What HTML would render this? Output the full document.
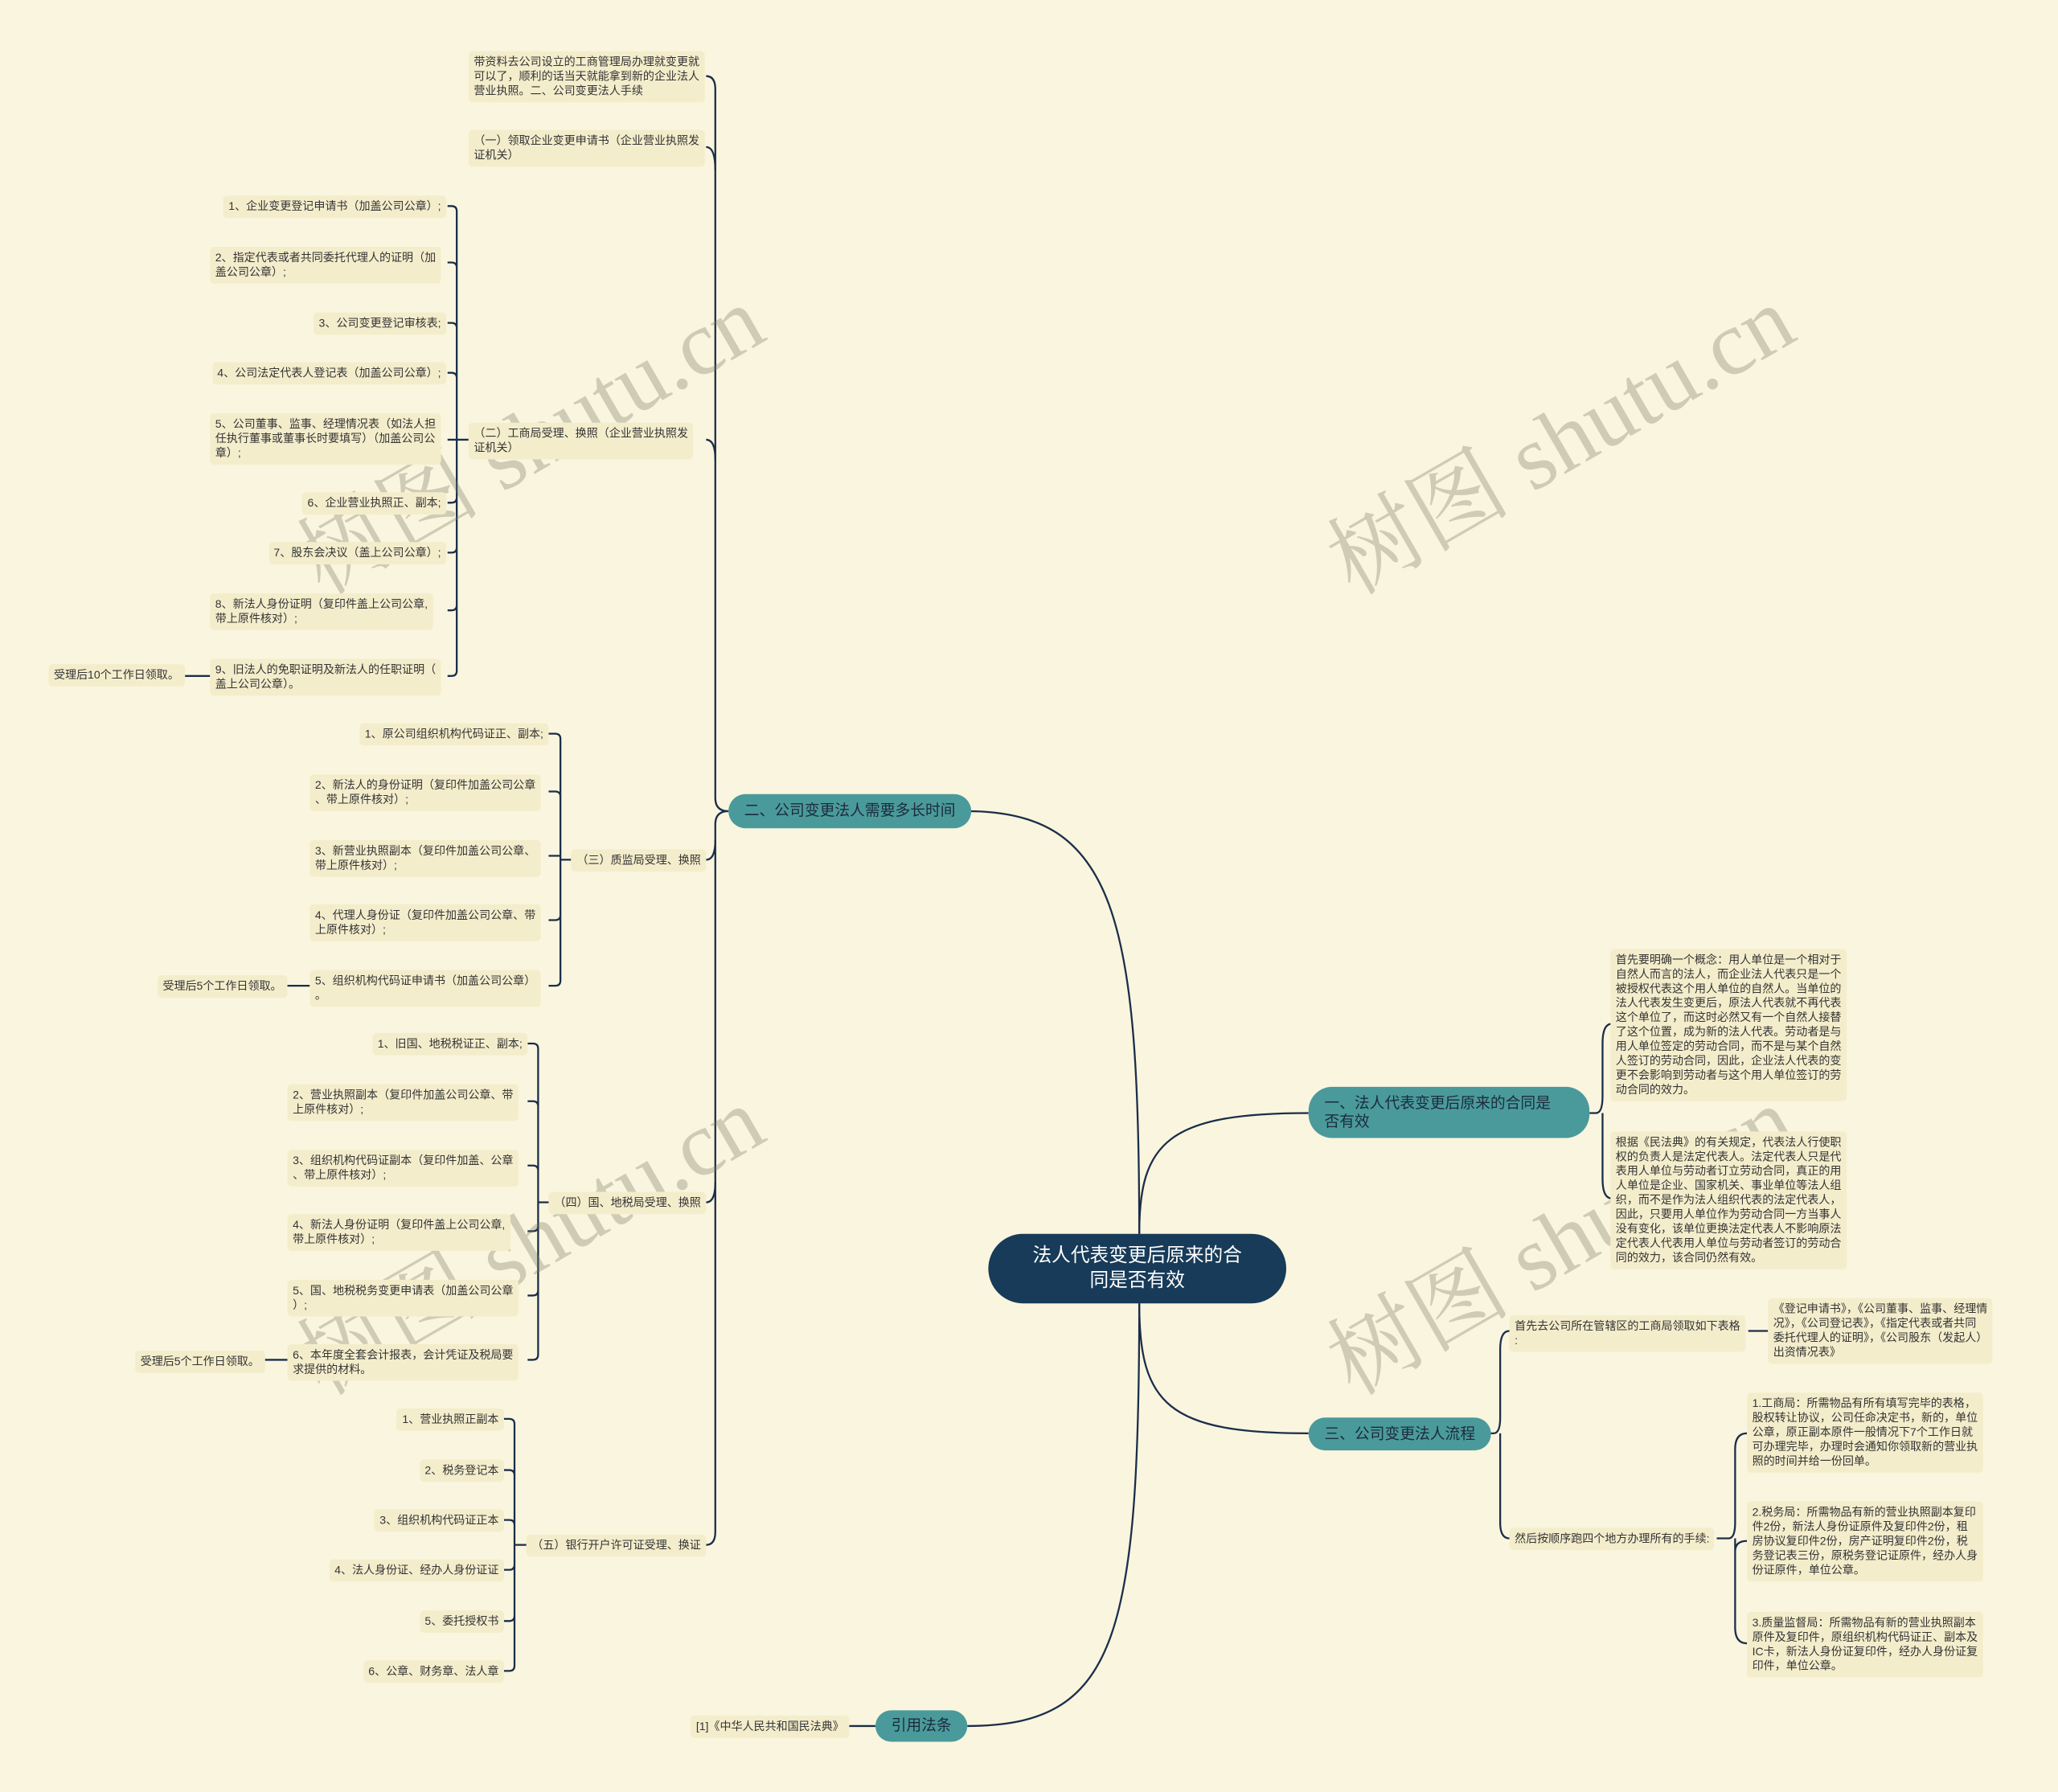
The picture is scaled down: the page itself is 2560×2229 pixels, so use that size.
<!DOCTYPE html>
<html><head><meta charset="utf-8"><style>
html,body{margin:0;padding:0;background:#faf5de;}
body{width:2560px;height:2228px;overflow:hidden;position:relative;}
#s{position:absolute;left:0;top:0;width:1568px;height:1365px;transform:scale(1.63265);transform-origin:0 0;font-family:"Liberation Sans","Noto Sans CJK SC",sans-serif;}
.n{position:absolute;background:#f4edcc;border-radius:3px;padding:3px 4px;font-size:8.6px;line-height:11px;color:#333;white-space:nowrap;}
.b{position:absolute;background:#4a9a9b;border-radius:14px;font-size:11.5px;line-height:14px;color:#1c2c3c;padding:0 12px;display:flex;align-items:center;white-space:nowrap;}
.wm{position:absolute;font-family:"Liberation Serif","Noto Serif CJK SC",serif;font-size:70px;color:rgba(120,120,100,0.33);transform:rotate(-30deg);white-space:nowrap;transform-origin:center;}
svg{position:absolute;left:0;top:0;}
</style></head><body><div id="s">
<svg width="1568" height="1365" fill="none" stroke="#1b2e4a" stroke-width="1.4">
<path d="M868,940 C868,700 850,618 737,618"/>
<path d="M868,940 C868,870 890,848 997,848"/>
<path d="M868,993 C868,1070 890,1092 997,1092"/>
<path d="M868,993 C868,1250 850,1315 737,1315"/>
<path d="M555,618 Q545,618 545,608 V68 Q545,58 538,58"/>
<path d="M545,130 Q545,112 538,112"/>
<path d="M545,350 Q545,335 538,335"/>
<path d="M555,618 Q545,618 545,628 V1167 Q545,1177 538,1177"/>
<path d="M545,640 Q545,655 538,655"/>
<path d="M545,901 Q545,916 538,916"/>
<path d="M357,335 H348 V161 Q348,157 344,157 H341 M348,204 Q348,200 344,200 H341 M348,250 Q348,246 344,246 H341 M348,288 Q348,284 344,284 H341 M348,335 H341 M348,379 Q348,383 344,383 H341 M348,417 Q348,421 344,421 H341 M348,461 Q348,465 344,465 H341 M348,335 V511 Q348,515 344,515 H341"/>
<path d="M160,515 H140"/>
<path d="M437,655 H427 V563 Q427,559 423,559 H418 M427,607 Q427,603 423,603 H418 M427,652 H418 M427,697 Q427,701 423,701 H418 M427,655 V747 Q427,751 423,751 H418"/>
<path d="M236,751 H218"/>
<path d="M422,916 H410 V799 Q410,795 406,795 H402 M410,843 Q410,839 406,839 H402 M410,892 Q410,888 406,888 H402 M410,934 Q410,938 406,938 H402 M410,983 Q410,987 406,987 H402 M410,916 V1032 Q410,1036 406,1036 H402"/>
<path d="M219,1036 H201"/>
<path d="M403,1177 H392 V1085 Q392,1081 388,1081 H384 M392,1124 Q392,1120 388,1120 H384 M392,1162 Q392,1158 388,1158 H384 M392,1192 Q392,1196 388,1196 H384 M392,1231 Q392,1235 388,1235 H384 M392,1177 V1269 Q392,1273 388,1273 H384"/>
<path d="M667,1315 H647"/>
<path d="M1211,848 H1216 Q1221,848 1221,835 V795 Q1221,780 1228,780 M1221,848 V898 Q1221,913 1228,913"/>
<path d="M1134,1092 H1138 Q1143,1092 1143,1080 V1028 Q1143,1014 1150,1014 M1143,1092 V1160 Q1143,1172 1150,1172"/>
<path d="M1332,1014 H1347"/>
<path d="M1308,1172 H1317 Q1322,1172 1322,1160 V1104 Q1322,1092 1331,1092 M1322,1172 V1240 Q1322,1252 1331,1252 M1322,1172 V1182 Q1322,1174 1331,1174"/>
</svg>

<div class="wm" style="left:205px;top:280px;">树图 shutu.cn</div>
<div class="wm" style="left:205px;top:890px;">树图 shutu.cn</div>
<div class="wm" style="left:990px;top:280px;">树图 shutu.cn</div>
<div class="wm" style="left:990px;top:890px;">树图 shutu.cn</div>

<div style="position:absolute;left:753px;top:940px;width:227px;height:53px;background:#173b58;border-radius:27px;color:#fff;font-size:14.5px;line-height:19px;text-align:center;display:flex;align-items:center;justify-content:center;">法人代表变更后原来的合<br>同是否有效</div>

<div class="b" style="left:555px;top:605px;height:26px;">二、公司变更法人需要多长时间</div>
<div class="b" style="left:997px;top:828px;height:39px;width:190px;border-radius:18px;">一、法人代表变更后原来的合同是<br>否有效</div>
<div class="b" style="left:997px;top:1080px;height:25px;">三、公司变更法人流程</div>
<div class="b" style="left:667px;top:1303px;height:24px;">引用法条</div>

<div class="n" style="left:357px;top:39px;">带资料去公司设立的工商管理局办理就变更就<br>可以了，顺利的话当天就能拿到新的企业法人<br>营业执照。二、公司变更法人手续</div>
<div class="n" style="left:357px;top:99px;">（一）领取企业变更申请书（企业营业执照发<br>证机关）</div>
<div class="n" style="left:357px;top:322px;">（二）工商局受理、换照（企业营业执照发<br>证机关）</div>
<div class="n" style="right:1030px;top:647px;">（三）质监局受理、换照</div>
<div class="n" style="right:1030px;top:908px;">（四）国、地税局受理、换照</div>
<div class="n" style="right:1030px;top:1169px;">（五）银行开户许可证受理、换证</div>

<div class="n" style="right:1228px;top:149px;">1、企业变更登记申请书（加盖公司公章）;</div>
<div class="n" style="left:160px;top:188px;">2、指定代表或者共同委托代理人的证明（加<br>盖公司公章）;</div>
<div class="n" style="right:1228px;top:238px;">3、公司变更登记审核表;</div>
<div class="n" style="right:1228px;top:276px;">4、公司法定代表人登记表（加盖公司公章）;</div>
<div class="n" style="left:160px;top:315px;">5、公司董事、监事、经理情况表（如法人担<br>任执行董事或董事长时要填写）（加盖公司公<br>章）;</div>
<div class="n" style="right:1228px;top:375px;">6、企业营业执照正、副本;</div>
<div class="n" style="right:1228px;top:413px;">7、股东会决议（盖上公司公章）;</div>
<div class="n" style="left:160px;top:452px;">8、新法人身份证明（复印件盖上公司公章,<br>带上原件核对）;</div>
<div class="n" style="left:160px;top:502px;">9、旧法人的免职证明及新法人的任职证明（<br>盖上公司公章）。</div>
<div class="n" style="left:37px;top:506px;">受理后10个工作日领取。</div>

<div class="n" style="right:1150px;top:551px;">1、原公司组织机构代码证正、副本;</div>
<div class="n" style="left:236px;top:590px;">2、新法人的身份证明（复印件加盖公司公章<br>、带上原件核对）;</div>
<div class="n" style="left:236px;top:640px;">3、新营业执照副本（复印件加盖公司公章、<br>带上原件核对）;</div>
<div class="n" style="left:236px;top:689px;">4、代理人身份证（复印件加盖公司公章、带<br>上原件核对）;</div>
<div class="n" style="left:236px;top:739px;">5、组织机构代码证申请书（加盖公司公章）<br>。</div>
<div class="n" style="left:120px;top:743px;">受理后5个工作日领取。</div>

<div class="n" style="right:1166px;top:787px;">1、旧国、地税税证正、副本;</div>
<div class="n" style="left:219px;top:826px;">2、营业执照副本（复印件加盖公司公章、带<br>上原件核对）;</div>
<div class="n" style="left:219px;top:876px;">3、组织机构代码证副本（复印件加盖、公章<br>、带上原件核对）;</div>
<div class="n" style="left:219px;top:925px;">4、新法人身份证明（复印件盖上公司公章,<br>带上原件核对）;</div>
<div class="n" style="left:219px;top:975px;">5、国、地税税务变更申请表（加盖公司公章<br>）;</div>
<div class="n" style="left:219px;top:1024px;">6、本年度全套会计报表，会计凭证及税局要<br>求提供的材料。</div>
<div class="n" style="left:103px;top:1029px;">受理后5个工作日领取。</div>

<div class="n" style="right:1184px;top:1073px;">1、营业执照正副本</div>
<div class="n" style="right:1184px;top:1112px;">2、税务登记本</div>
<div class="n" style="right:1184px;top:1150px;">3、组织机构代码证正本</div>
<div class="n" style="right:1184px;top:1188px;">4、法人身份证、经办人身份证证</div>
<div class="n" style="right:1184px;top:1227px;">5、委托授权书</div>
<div class="n" style="right:1184px;top:1265px;">6、公章、财务章、法人章</div>

<div class="n" style="right:921px;top:1307px;">[1]《中华人民共和国民法典》</div>

<div class="n" style="left:1227px;top:723px;">首先要明确一个概念：用人单位是一个相对于<br>自然人而言的法人，而企业法人代表只是一个<br>被授权代表这个用人单位的自然人。当单位的<br>法人代表发生变更后，原法人代表就不再代表<br>这个单位了，而这时必然又有一个自然人接替<br>了这个位置，成为新的法人代表。劳动者是与<br>用人单位签定的劳动合同，而不是与某个自然<br>人签订的劳动合同，因此，企业法人代表的变<br>更不会影响到劳动者与这个用人单位签订的劳<br>动合同的效力。</div>
<div class="n" style="left:1227px;top:862px;">根据《民法典》的有关规定，代表法人行使职<br>权的负责人是法定代表人。法定代表人只是代<br>表用人单位与劳动者订立劳动合同，真正的用<br>人单位是企业、国家机关、事业单位等法人组<br>织，而不是作为法人组织代表的法定代表人，<br>因此，只要用人单位作为劳动合同一方当事人<br>没有变化，该单位更换法定代表人不影响原法<br>定代表人代表用人单位与劳动者签订的劳动合<br>同的效力，该合同仍然有效。</div>

<div class="n" style="left:1150px;top:1002px;">首先去公司所在管辖区的工商局领取如下表格<br>:</div>
<div class="n" style="left:1347px;top:989px;">《登记申请书》，《公司董事、监事、经理情<br>况》，《公司登记表》，《指定代表或者共同<br>委托代理人的证明》，《公司股东（发起人）<br>出资情况表》</div>
<div class="n" style="left:1150px;top:1164px;">然后按顺序跑四个地方办理所有的手续:</div>
<div class="n" style="left:1331px;top:1061px;">1.工商局：所需物品有所有填写完毕的表格，<br>股权转让协议，公司任命决定书，新的，单位<br>公章，原正副本原件一般情况下7个工作日就<br>可办理完毕，办理时会通知你领取新的营业执<br>照的时间并给一份回单。</div>
<div class="n" style="left:1331px;top:1144px;">2.税务局：所需物品有新的营业执照副本复印<br>件2份，新法人身份证原件及复印件2份，租<br>房协议复印件2份，房产证明复印件2份，税<br>务登记表三份，原税务登记证原件，经办人身<br>份证原件，单位公章。</div>
<div class="n" style="left:1331px;top:1228px;">3.质量监督局：所需物品有新的营业执照副本<br>原件及复印件，原组织机构代码证正、副本及<br>IC卡，新法人身份证复印件，经办人身份证复<br>印件，单位公章。</div>
</div></body></html>
